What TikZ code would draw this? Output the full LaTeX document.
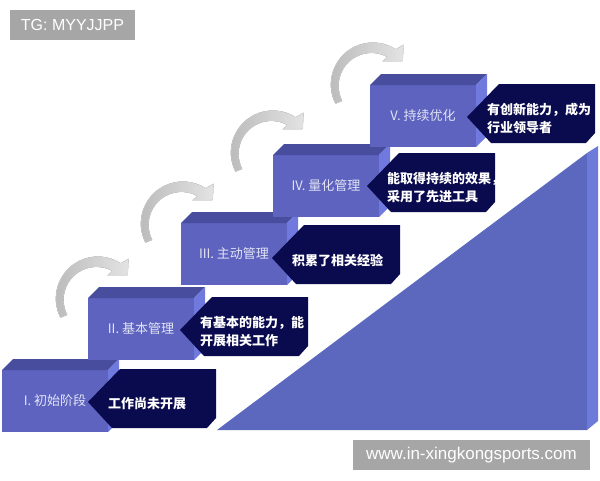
\documentclass[tikz,border=0pt]{standalone}
\usepackage{fontspec}
\setmainfont{Liberation Sans}
\newfontfamily\cjk{Noto Sans CJK SC}
\definecolor{stepfront}{RGB}{93,99,190}
\definecolor{steptop}{RGB}{72,77,158}
\definecolor{stepside}{RGB}{112,122,222}
\definecolor{steptext}{RGB}{226,228,246}
\definecolor{slopefront}{RGB}{92,103,190}
\definecolor{slopeside}{RGB}{108,122,218}
\definecolor{labelfill}{RGB}{10,10,78}
\definecolor{markgray}{RGB}{166,166,166}
\tikzset{
  stagename/.style = {text = steptext, inner sep = 0, font = \cjk\fontsize{13}{15}\selectfont},
  notetext/.style = {text = white, anchor = west, align = left, inner sep = 0, font = \cjk\bfseries\fontsize{13}{18}\selectfont},
  curvearrow/.style = {left color = gray!55, right color = gray!22, draw = gray!30, line width = 0.4},
  markbox/.style = {fill = markgray, text = white, inner sep = 0, minimum height = 30}
}
\begin{document}
\begin{tikzpicture}[x = 1pt, y = 1pt]
\useasboundingbox (0,0) rectangle (600,-480);
\pgfmathsetmacro\w{106};
\pgfmathsetmacro\h{62};
\pgfmathsetmacro\d{11};
\node [markbox, minimum width = 125, font = \fontsize{16}{18}\selectfont] (tg) at (72.5,-25) {TG: MYYJJPP};
\fill [slopefront] (217,-430) -- (587,-153) -- (587,-430) -- cycle;
\fill [slopeside] (587,-153) -- (598,-146) -- (598,-421) -- (587,-430) -- cycle;
\foreach \cx/\cy in {97/299, 182/224, 272/153, 372/85}
  \filldraw [curvearrow, shift = {(\cx,-\cy)}] (207:41) arc [start angle = 207, end angle = 57, radius = 42] -- (52:51) -- (38:39) -- (66:26) -- (61:32) arc [start angle = 61, end angle = 207, radius = 33] -- cycle;
\foreach \n/\x/\y/\tx/\ty/\stagetxt/\notetxt in {
  1/2/370/88/402/{I. 初始阶段}/{工作尚未开展},
  2/88/298/180/330/{II. 基本管理}/{有基本的能力，能\\开展相关工作},
  3/181/223/272/258/{III. 主动管理}/{积累了相关经验},
  4/273/155/367/186/{IV. 量化管理}/{能取得持续的效果，\\采用了先进工具},
  5/370/85/467/117/{V. 持续优化}/{有创新能力，成为\\行业领导者}} {
  \fill [stepfront] (\x,-\y) rectangle (\x+\w,-\y-\h);
  \fill [steptop] (\x,-\y) -- ++(\d,\d) -- ++(\w,0) -- ++(-\d,-\d) -- cycle;
  \fill [stepside] (\x+\w,-\y) -- ++(\d,\d) -- ++(0,-\h) -- ++(-\d,-\d) -- cycle;
  \node [stagename] (stage\n) at (\x+\w/2,-\y-\h/2) {\stagetxt};
  \fill [labelfill] (\tx,-\ty) -- (\tx+32,-\ty+33) -- (\tx+128,-\ty+33) -- (\tx+128,-\ty-16) -- (\tx+119,-\ty-26) -- (\tx+24,-\ty-26) -- cycle;
  \node [notetext] (note\n) at (\tx+20,-\ty-2) {\notetxt};
}
\node [markbox, minimum width = 237, font = \fontsize{17}{19}\selectfont] (url) at (471.5,-455) {www.in-xingkongsports.com};
\end{tikzpicture}
\end{document}
